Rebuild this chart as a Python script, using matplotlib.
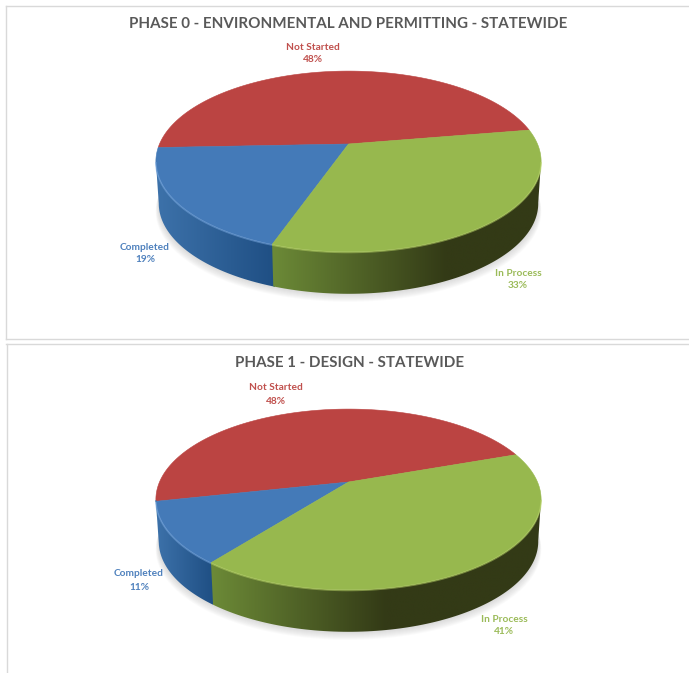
#!/usr/bin/python

import numpy as np
import matplotlib
matplotlib.use('Agg')
import matplotlib.pyplot as plt
from matplotlib.colors import LinearSegmentedColormap
from matplotlib.patches import Polygon

W, H = 689, 673

categories = ['Not Started', 'Completed', 'In Process']
phase0_values = [48, 19, 33]
phase1_values = [48, 11, 41]
titles = ['PHASE 0 - ENVIRONMENTAL AND PERMITTING - STATEWIDE',
          'PHASE 1 - DESIGN - STATEWIDE']

top_colors = ['#bb4442', '#447ab8', '#97b84e']
label_colors = ['#c0504d', '#4f81bd', '#9bbb59']
edge_colors = [None, '#78a8e0', '#bdd96a']
wall_cmaps = [
    None,
    LinearSegmentedColormap.from_list('b', ['#3d72aa', '#1f4f84']),
    LinearSegmentedColormap.from_list('g', ['#6c8a37', '#333a16']),
]

# perspective of the disc: a (half width), b, k (tilt), depth of the wall
a, b, k, depth = 189.0, 87.0, 0.193, 42.0
cx = 348.5


def rim(t, cy):
    # t in degrees, counter clockwise from east, projected on the picture
    t = np.radians(t)
    w = 1 + k * np.sin(t)
    return cx + a * np.cos(t) / w, cy - b * np.sin(t) / w


def draw_pie(ax, values, start, cy, label_pos):
    vis_lo = 180 + np.degrees(np.arcsin(k))
    vis_hi = 360 - np.degrees(np.arcsin(k))

    # soft shadow under the disc
    t = np.linspace(vis_lo - 8, vis_hi + 8, 160)
    x, y = rim(t, cy)
    for i in range(1, 9):
        sx = cx + (x - cx) * (0.985 + 0.002 * i)
        ax.fill(sx, y + depth + i, color='#808080', alpha=0.035, lw=0, zorder=1)

    angles = start + np.cumsum([0] + list(values)) * 3.6
    for i in range(len(values)):
        t0, t1 = angles[i], angles[i + 1]

        # side wall, only the part on the near side
        lo, hi = max(t0, vis_lo), min(t1, vis_hi)
        if hi > lo:
            # a little overlap so no white seam shows between walls
            t = np.linspace(lo, hi + 0.6, 100)
            x, y = rim(t, cy)
            xb = cx + (x - cx) * 0.985
            patch = Polygon(np.c_[np.r_[x, xb[::-1]], np.r_[y, y[::-1] + depth]],
                            closed=True, fc='none', ec='none',
                            transform=ax.transData)
            ax.add_patch(patch)
            # blue runs over its width, green goes dark and then stays flat
            span = 175.0 if i == 2 else x.max() - x.min()
            xs = np.linspace(x.min(), x.max(), 200)
            g = np.clip((xs - x.min()) / span, 0, 1)
            im = ax.imshow(g[None, :], cmap=wall_cmaps[i], vmin=0, vmax=1,
                           extent=(x.min(), x.max(), y.max() + depth + 1, y.min() - 1),
                           aspect='auto', interpolation='bilinear', zorder=2)
            im.set_clip_path(patch)

        # top surface, wedge from the apex
        t = np.linspace(t0, t1, 120)
        x, y = rim(t, cy)
        ax.fill(np.r_[cx, x], np.r_[cy, y], color=top_colors[i], lw=0.4, zorder=3)

        # light bevel on the near rim
        if hi > lo:
            t = np.linspace(lo, hi, 100)
            x, y = rim(t, cy)
            ax.plot(x, y + 0.6, color=edge_colors[i], lw=1.2, alpha=0.5,
                    solid_capstyle='butt', zorder=4)

        lx, ly = label_pos[i]
        ax.text(lx, ly, categories[i], color=label_colors[i], fontsize=7.3,
                fontweight='bold', ha='center', va='center', zorder=5)
        ax.text(lx, ly + 13, '%d%%' % values[i], color=label_colors[i],
                fontsize=7.3, fontweight='bold', ha='center', va='center', zorder=5)


plt.rcParams['font.family'] = ['Lato', 'DejaVu Sans']
fig = plt.figure(figsize=(W / 100.0, H / 100.0), dpi=100)

panels = [(5.5, 5.5, 339.0), (6.5, 344.0, 673.0)]
axes = []
for (left, top, bottom) in panels:
    ax = fig.add_axes([left / W, 1 - bottom / H, (W - left) / W, (bottom - top) / H])
    axes.append(ax)

draw_pie(axes[0], phase0_values, 9.5, 144.0, [(313, 47), (145, 247), (518, 273)])
draw_pie(axes[1], phase1_values, 19.5, 482.0, [(275.5, 388), (139, 574), (504, 619)])

title_pos = [(348.5, 24), (350, 363)]
for ax, (left, top, bottom), title, tp in zip(axes, panels, titles, title_pos):
    ax.set_xlim(left, W)
    ax.set_ylim(bottom, top)
    ax.set_xticks([])
    ax.set_yticks([])
    ax.text(tp[0], tp[1], title, color='#595959', fontsize=10.9, fontweight='bold',
            ha='center', va='center')
    for s in ax.spines.values():
        s.set_color('#d9d9d9')
        s.set_linewidth(1.0)
    ax.spines['right'].set_visible(False)
axes[1].spines['bottom'].set_visible(False)

fig.savefig('out.png', dpi=100)
